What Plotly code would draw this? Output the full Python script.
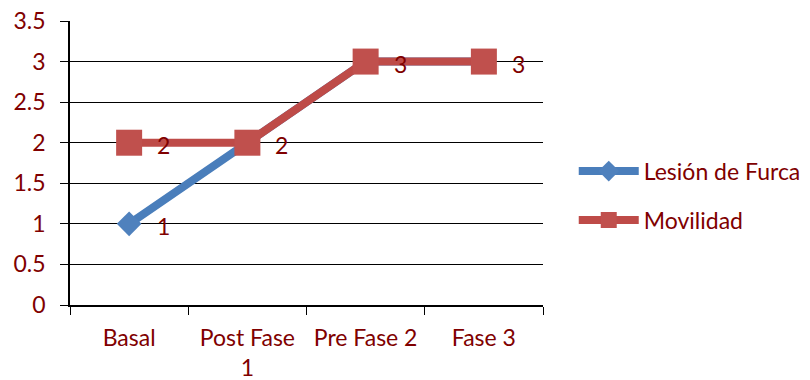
import plotly.graph_objects as go

categories = ["Basal", "Post Fase 1", "Pre Fase 2", "Fase 3"]
tick_labels = ["Basal", "Post Fase<br>1", "Pre Fase 2", "Fase 3"]
lesion_furca = [1, 2, 3, 3]
movilidad = [2, 2, 3, 3]

text_color = "#800000"
font_family = "Lato, 'Open Sans', sans-serif"
font_size = 23

fig = go.Figure()
fig.add_trace(go.Scatter(
    x=categories, y=lesion_furca, name="Lesión de Furca",
    mode="lines+markers", legendgroup="furca",
    line=dict(color="#4A7EBB", width=8),
    marker=dict(symbol="diamond", size=19, color="#4F81BD"),
))
fig.add_trace(go.Scatter(
    x=categories, y=movilidad, name="Movilidad",
    mode="lines+markers", legendgroup="movilidad",
    line=dict(color="#BE4B48", width=8),
    marker=dict(symbol="square", size=26, color="#C0504D"),
))

# value labels to the right of each point; where both series share a
# point, the single label on top serves for both
labels = []
for cat, a, b in zip(categories, lesion_furca, movilidad):
    labels.append((cat, b))
    if a != b:
        labels.append((cat, a))
for cat, val in labels:
    fig.add_annotation(
        x=cat, y=val, text=str(val), showarrow=False,
        xanchor="left", yanchor="middle", xshift=26, yshift=-2,
        font=dict(size=font_size, color=text_color, family=font_family),
    )

fig.update_layout(
    width=810, height=380,
    margin=dict(l=70, r=267, t=21, b=75, autoexpand=False),
    paper_bgcolor="white", plot_bgcolor="white",
    font=dict(family=font_family, color=text_color, size=font_size),
    showlegend=True,
    legend=dict(x=1.065, y=0.385, xanchor="left", yanchor="middle",
                font=dict(size=font_size, color=text_color), tracegroupgap=16,
                itemwidth=60),
)
fig.update_xaxes(
    type="category", range=[-0.5, 3.5],
    tickvals=categories, ticktext=tick_labels,
    tickson="boundaries", ticks="outside", ticklen=8, tickcolor="black",
    showline=True, linecolor="black", linewidth=1.5,
    showgrid=False, zeroline=False, ticklabelstandoff=12, automargin=False,
    tickfont=dict(size=font_size, color=text_color),
)
fig.update_yaxes(
    range=[0, 3.5], dtick=0.5, tickformat="~g",
    ticks="outside", ticklen=8, tickcolor="black",
    showline=True, linecolor="black", linewidth=1.5,
    showgrid=True, gridcolor="black", gridwidth=1,
    zeroline=False, ticklabelstandoff=10, automargin=False,
    tickfont=dict(size=font_size, color=text_color),
)

fig.write_html("out.html")
